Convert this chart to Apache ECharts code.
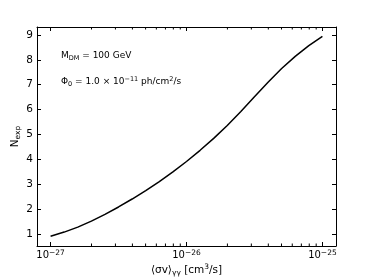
<!DOCTYPE html>
<html><head><meta charset="utf-8">
<script src="https://cdn.jsdelivr.net/npm/echarts@6/dist/echarts.min.js"></script>
<style>html,body{margin:0;padding:0;background:#fff}#c{width:374px;height:280px}</style>
</head><body><div id="c"></div>
<script>
const sigmaV = [1.0e-27, 1.259e-27, 1.585e-27, 1.995e-27, 2.512e-27, 3.162e-27, 3.981e-27, 5.012e-27, 6.310e-27, 7.943e-27,
                1.0e-26, 1.259e-26, 1.585e-26, 1.995e-26, 2.512e-26, 3.162e-26, 3.981e-26, 5.012e-26, 6.310e-26, 7.943e-26, 1.0e-25];
const nExp = [0.90, 1.07, 1.27, 1.51, 1.78, 2.08, 2.40, 2.74, 3.10, 3.49,
              3.91, 4.36, 4.84, 5.36, 5.92, 6.51, 7.10, 7.65, 8.14, 8.57, 8.94];
const minorX = [2e-27, 3e-27, 4e-27, 5e-27, 6e-27, 7e-27, 8e-27, 9e-27,
                2e-26, 3e-26, 4e-26, 5e-26, 6e-26, 7e-26, 8e-26, 9e-26];
const xMin = 7.943e-28, xMax = 1.259e-25;
const yMin = 0.51, yMax = 9.32;

const FONT = 'DejaVu Sans';
const INK = '#000';
const chart = echarts.init(document.getElementById('c'), null, {renderer: 'canvas'});

function xAx(pos, labels) {
  return {
    type: 'log', logBase: 10, position: pos, min: xMin, max: xMax, gridIndex: 0,
    axisLine: {show: true, onZero: false, lineStyle: {color: INK, width: 1}},
    axisTick: {show: true, inside: true, length: 4, lineStyle: {color: INK, width: 1}},
    axisLabel: labels ? {
      show: true, showMinLabel: false, showMaxLabel: false, margin: 3, color: INK,
      formatter: v => '{n|10}{sup|' + String(Math.round(Math.log10(v))).replace('-', '\u2212') + '}',
      rich: {
        n: {fontSize: 10, fontFamily: FONT, color: INK, lineHeight: 13},
        sup: {fontSize: 7.5, fontFamily: FONT, color: INK, lineHeight: 13, verticalAlign: 'top'}
      }
    } : {show: false},
    splitLine: {show: false}, minorTick: {show: false}
  };
}
function yAx(pos, labels) {
  return {
    type: 'value', position: pos, min: yMin, max: yMax, splitNumber: 9, gridIndex: 0,
    axisLine: {show: true, onZero: false, lineStyle: {color: INK, width: 1}},
    axisTick: {show: true, inside: true, length: 4, lineStyle: {color: INK, width: 1}},
    axisLabel: labels ? {show: true, showMinLabel: false, showMaxLabel: false, margin: 4, color: INK, fontFamily: FONT, fontSize: 10.5} : {show: false},
    splitLine: {show: false}
  };
}

const xMain = xAx('bottom', true);
xMain.name = '{n|\u27E8\u03C3v\u27E9}{sub|\u03B3\u03B3}{n| [cm}{sup|3}{n|/s]}';
xMain.nameLocation = 'middle';
xMain.nameGap = 17;
xMain.nameMoveOverlap = false;
xMain.nameTextStyle = {
  rich: {
    n: {fontSize: 10.5, fontFamily: FONT, color: INK, lineHeight: 14},
    sub: {fontSize: 7.5, fontFamily: FONT, color: INK, lineHeight: 14, verticalAlign: 'bottom'},
    sup: {fontSize: 7.5, fontFamily: FONT, color: INK, lineHeight: 14, verticalAlign: 'top'}
  }
};
const yMain = yAx('left', true);
yMain.name = '{n|N}{sub|exp}';
yMain.nameLocation = 'middle';
yMain.nameGap = 15;
yMain.nameRotate = 90;
yMain.nameMoveOverlap = false;
yMain.nameTextStyle = {
  rich: {
    n: {fontSize: 10.5, fontFamily: FONT, color: INK, lineHeight: 14},
    sub: {fontSize: 7.5, fontFamily: FONT, color: INK, lineHeight: 14, verticalAlign: 'bottom'}
  }
};

const annRich = {
  n: {fontSize: 9, fontFamily: FONT, fill: INK, lineHeight: 12},
  sub: {fontSize: 6.5, fontFamily: FONT, fill: INK, lineHeight: 12, verticalAlign: 'bottom'},
  sup: {fontSize: 6.5, fontFamily: FONT, fill: INK, lineHeight: 12, verticalAlign: 'top'}
};

chart.setOption({
  animation: false,
  backgroundColor: '#fff',
  grid: {left: 37, right: 38, top: 27, bottom: 34, containLabel: false, outerBoundsMode: 'none'},
  xAxis: [xMain, xAx('top', false)],
  yAxis: [yMain, yAx('right', false)],
  graphic: [
    {type: 'text', left: 61, top: 51, style: {rich: annRich, text: '{n|M}{sub|DM}{n| = 100 GeV}'}},
    {type: 'text', left: 61, top: 76, style: {rich: annRich, text: '{n|\u03A6}{sub|0}{n| = 1.0 \u00D7 10}{sup|\u221211}{n| ph/cm}{sup|2}{n|/s}'}}
  ],
  series: [{
    type: 'line', xAxisIndex: 0, yAxisIndex: 0,
    data: sigmaV.map((s, i) => [s, nExp[i]]),
    showSymbol: false, smooth: false,
    lineStyle: {color: INK, width: 1.5}
  }, {
    type: 'custom', xAxisIndex: 0, yAxisIndex: 0, clip: false, silent: true,
    data: minorX.map(v => [v, yMin]),
    renderItem: (params, api) => {
      const b = api.coord([api.value(0), yMin]);
      const t = api.coord([api.value(0), yMax]);
      const st = {stroke: INK, lineWidth: 1};
      return {type: 'group', children: [
        {type: 'line', shape: {x1: b[0], y1: b[1], x2: b[0], y2: b[1] - 2.5}, style: st},
        {type: 'line', shape: {x1: t[0], y1: t[1], x2: t[0], y2: t[1] + 2.5}, style: st}
      ]};
    }
  }]
});
</script></body></html>
